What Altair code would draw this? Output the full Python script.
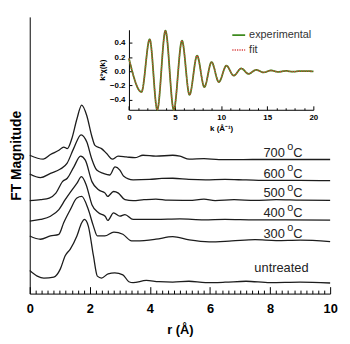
import altair as alt
import pandas as pd

# ---------------- main panel: FT magnitude vs r (arbitrary units, stacked) ----------------
series_names = ["700", "600", "500", "400", "300", "untreated"]

r_700 = [0, 0.45, 0.69, 0.97, 1.13, 1.25, 1.40, 1.57, 1.73, 1.90, 2.06, 2.17, 2.39, 2.56, 2.75, 2.94, 3.21, 3.5, 3.77, 4.2, 4.76, 5.0, 5.31, 5.8, 6.3, 6.73, 7.5, 8.5, 10]
v_700 = [140, 136, 140.7, 145, 148.3, 146.7, 156.7, 176.7, 190.7, 180, 160, 150, 146.7, 141.7, 136, 139, 138.3, 137.5, 140, 139, 140, 139, 136, 136.5, 135.5, 135.5, 135.7, 135.7, 135.7]

r_600 = [0, 0.36, 0.69, 1.02, 1.24, 1.46, 1.71, 1.90, 2.06, 2.23, 2.45, 2.66, 2.84, 3.0, 3.12, 3.44, 3.99, 4.4, 4.76, 5.3, 5.85, 6.5, 7.2, 8, 9, 10]
v_600 = [121, 117.3, 121.7, 126, 131.7, 146.7, 160.7, 153.3, 136.7, 125, 121.7, 120, 128.3, 125, 119, 115, 115.5, 116.5, 116.7, 115.5, 115, 115.5, 115, 114.5, 114.5, 114.3]

r_500 = [0, 0.37, 0.65, 0.87, 1.09, 1.25, 1.47, 1.69, 1.85, 2.07, 2.29, 2.51, 2.59, 2.79, 2.95, 3.17, 3.44, 3.8, 4.2, 4.6, 5.31, 5.8, 6.17, 6.8, 7.5, 8.2, 9, 10]
v_500 = [94, 95, 96.7, 101.7, 113.3, 116.7, 128.3, 139, 135, 113.3, 105, 101.7, 98.3, 103.3, 101.7, 95, 94, 95, 95.7, 94.5, 94.3, 95.5, 94, 95, 94.3, 95, 94.5, 94.3]

r_400 = [0, 0.36, 0.69, 0.97, 1.18, 1.36, 1.58, 1.72, 1.88, 2.07, 2.29, 2.51, 2.60, 2.79, 3.0, 3.17, 3.44, 4.2, 5.0, 5.8, 6.5, 7.5, 8.5, 10]
v_400 = [73.3, 75, 78.3, 85, 95, 103, 112, 118.3, 110, 90, 81.7, 78.3, 74, 81.7, 78.3, 80, 75, 75, 75.5, 74.5, 75, 74.5, 74.5, 74.3]

r_300 = [0, 0.36, 0.69, 0.97, 1.13, 1.35, 1.57, 1.73, 1.95, 2.12, 2.25, 2.5, 2.8, 3.1, 3.39, 3.55, 4.2, 4.76, 5.31, 5.97, 6.73, 7.5, 8.2, 9, 10]
v_300 = [58.3, 55, 58.3, 60, 71.7, 85, 96.7, 98.3, 85, 68.3, 58.3, 58.3, 62.3, 60, 53.3, 53.3, 55, 57.7, 54.3, 52.3, 53.3, 54.5, 53.5, 54, 52.5]

r_untreated = [0, 0.25, 0.47, 0.8, 1.02, 1.18, 1.35, 1.57, 1.73, 1.82, 1.95, 2.12, 2.25, 2.39, 2.61, 2.83, 3.1, 3.3, 3.44, 3.88, 4.3, 4.76, 5.3, 5.85, 6.5, 7.2, 8, 9, 10]
v_untreated = [23.3, 17.7, 15.7, 16.7, 25, 38.3, 45, 58.3, 71.7, 75, 68.3, 38.3, 17.7, 15.7, 20, 21, 19, 12, 11, 13.3, 12, 11.7, 12.5, 11, 11.5, 12.5, 11, 11.5, 10.7]

# ---------------- inset: k^3 chi(k) vs k ----------------
k_vals = [0, 1.36, 2.25, 3.07, 3.96, 4.86, 5.75, 6.57, 7.39, 8.18, 8.96, 9.75, 10.57, 11.36, 12.18, 12.96, 13.8, 14.6, 15.4, 16.2, 17.0, 17.8, 18.6, 20]
chi_exp = [0.18, -0.29, 0.45, -0.62, 0.57, -0.62, 0.43, -0.33, 0.22, -0.22, 0.13, -0.15, 0.08, -0.06, 0.04, -0.035, 0.02, -0.015, 0.012, -0.008, 0.006, -0.005, 0.004, 0.0]
chi_fit = [0.18, -0.29, 0.45, -0.62, 0.57, -0.62, 0.43, -0.33, 0.22, -0.22, 0.13, -0.15, 0.08, -0.06, 0.04, -0.035, 0.02, -0.015, 0.012, -0.008, 0.006, -0.005, 0.004, 0.0]
inset_series = ["experimental", "fit"]

# ---------------- curve labels ----------------
temp_labels = ["700", "600", "500", "400", "300"]
temp_label_levels = [138.3, 117.3, 97.3, 77.3, 56.7]
temp_label_r = [8.49, 8.49, 8.49, 8.49, 8.49]
untreated_label = ["untreated"]
untreated_level = [21.7]
untreated_r = [8.38]

FONT = "Liberation Sans"
W, H = 304, 280

rows = []
for name, rs, vs in zip(series_names,
                        [r_700, r_600, r_500, r_400, r_300, r_untreated],
                        [v_700, v_600, v_500, v_400, v_300, v_untreated]):
    for r, v in zip(rs, vs):
        rows.append({"series": name, "r": r, "v": v})
df_main = pd.DataFrame(rows)

irows = []
for name, vals in zip(inset_series, [chi_exp, chi_fit]):
    for k, c in zip(k_vals, vals):
        irows.append({"series": name, "k": k, "chi": c})
df_inset = pd.DataFrame(irows)

df_lab = pd.DataFrame({"t": temp_labels, "lv": temp_label_levels, "r": temp_label_r})
df_un = pd.DataFrame({"t": untreated_label, "lv": untreated_level, "r": untreated_r})

x_main = alt.Scale(domain=[0, 10], nice=False, zero=False)
y_main = alt.Scale(domain=[0, 280], nice=False, zero=False)
x_in = alt.Scale(domain=[0, 20], range=[100.4, 287], nice=False, zero=False)
y_in = alt.Scale(domain=[-0.54, 0.584], range=[94, 13], nice=False, zero=False, clamp=True)

curves = alt.Chart(df_main).mark_line(interpolate="monotone", color="#1c1c1c", strokeWidth=1.3).encode(
    x=alt.X("r:Q", scale=x_main, axis=alt.Axis(
        orient="bottom", values=[0, 2, 4, 6, 8, 10], ticks=False, labelPadding=9,
        labelFontSize=13, labelFontWeight="bold", labelFlush=False, labelColor="black",
        domainColor="black", title="r (Å)", titleFontSize=13, titleFontWeight="bold",
        titlePadding=8, titleColor="black", format="d")),
    y=alt.Y("v:Q", scale=y_main, axis=alt.Axis(
        orient="left", labels=False, ticks=False, domainColor="black",
        title="FT Magnitude", titleFontSize=14, titleFontWeight="bold",
        titlePadding=6, titleColor="black")),
    detail="series:N",
)

major_ticks = alt.Chart(df_main).mark_point(opacity=0).encode(
    x=alt.X("r:Q", scale=x_main, axis=alt.Axis(
        orient="top", offset=-H, values=[0, 2, 4, 6, 8, 10], tickSize=7, tickColor="black",
        labels=False, domain=False, title=None)),
    y=alt.Y("v:Q", scale=y_main, axis=None),
)
minor_ticks = alt.Chart(df_main).mark_point(opacity=0).encode(
    x=alt.X("r:Q", scale=x_main, axis=alt.Axis(
        orient="top", offset=-H, values=[round(i * 0.2, 1) for i in range(51) if i % 10 != 0],
        tickSize=3.5, tickColor="black", labels=False, domain=False, title=None)),
    y=alt.Y("v:Q", scale=y_main, axis=None),
)

legend = alt.Legend(orient="none", legendX=204, legendY=11, title=None, symbolType="stroke",
                    symbolSize=169, symbolStrokeWidth=2, labelFontSize=11, labelFont=FONT,
                    labelColor="#333", labelOffset=3, rowPadding=2, padding=0)

inset_lines = alt.Chart(df_inset).mark_line(interpolate="monotone").encode(
    x=alt.X("k:Q", scale=x_in, axis=alt.Axis(
        orient="top", offset=-94, values=[0, 5, 10, 15, 20], tickSize=4, tickColor="black",
        labels=False, domain=False, title=None)),
    y=alt.Y("chi:Q", scale=y_in, axis=alt.Axis(
        orient="right", offset=-(W - 100.4), values=[-0.4, -0.2, 0.0, 0.2, 0.4], tickSize=3,
        tickColor="black", labels=False, domain=False, title=None)),
    color=alt.Color("series:N", scale=alt.Scale(domain=inset_series, range=["#3d8a1e", "#d83a3a"]), legend=legend),
    strokeDash=alt.StrokeDash("series:N", scale=alt.Scale(domain=inset_series, range=[[1, 0], [1.2, 1.2]]), legend=legend),
    strokeWidth=alt.StrokeWidth("series:N", scale=alt.Scale(domain=inset_series, range=[1.8, 1.3]), legend=None),
)

inset_axes = alt.Chart(df_inset).mark_point(opacity=0).encode(
    x=alt.X("k:Q", scale=x_in, axis=alt.Axis(
        orient="bottom", offset=-(H - 94), values=[0, 5, 10, 15, 20], ticks=False, labelPadding=4,
        labelFontSize=8, labelFontWeight="bold", labelFlush=False, labelColor="black",
        domainColor="black", title="k (Å⁻¹)", titleFontSize=8, titleFontWeight="bold",
        titlePadding=3, titleColor="black", format="d")),
    y=alt.Y("chi:Q", scale=y_in, axis=alt.Axis(
        orient="left", offset=-100.4, values=[-0.4, -0.2, 0.0, 0.2, 0.4], ticks=False, labelPadding=4,
        labelFontSize=8, labelFontWeight="bold", labelColor="black", format=".1f",
        domainColor="black", title="k³χ(k)", titleFontSize=8, titleFontWeight="bold",
        titlePadding=3, titleColor="black")),
)

inset_minor = alt.Chart(df_inset).mark_point(opacity=0).encode(
    x=alt.X("k:Q", scale=x_in, axis=alt.Axis(
        orient="top", offset=-94, values=[i for i in range(21) if i % 5 != 0], tickSize=2,
        tickColor="black", labels=False, domain=False, title=None)),
    y=alt.Y("chi:Q", scale=y_in, axis=None),
)

lab_num = alt.Chart(df_lab).mark_text(align="right", baseline="alphabetic", fontSize=13, font=FONT, color="#222").encode(
    x=alt.X("r:Q", scale=x_main, axis=None), y=alt.Y("lv:Q", scale=y_main, axis=None), text="t:N")
lab_o = alt.Chart(df_lab).mark_text(align="center", baseline="alphabetic", fontSize=11, font=FONT, color="#222",
                                    dx=5.5, dy=-6.5, text="o").encode(
    x=alt.X("r:Q", scale=x_main, axis=None), y=alt.Y("lv:Q", scale=y_main, axis=None))
lab_c = alt.Chart(df_lab).mark_text(align="left", baseline="alphabetic", fontSize=13, font=FONT, color="#222",
                                    dx=8.5, text="C").encode(
    x=alt.X("r:Q", scale=x_main, axis=None), y=alt.Y("lv:Q", scale=y_main, axis=None))
lab_un = alt.Chart(df_un).mark_text(align="center", baseline="alphabetic", fontSize=13, font=FONT, color="#222").encode(
    x=alt.X("r:Q", scale=x_main, axis=None), y=alt.Y("lv:Q", scale=y_main, axis=None), text="t:N")

chart = alt.layer(
    curves, major_ticks, minor_ticks, inset_lines, inset_axes, inset_minor, lab_num, lab_o, lab_c, lab_un
).resolve_scale(
    x="independent", y="independent", color="independent", strokeDash="independent", strokeWidth="independent"
).resolve_axis(
    x="independent", y="independent"
).properties(
    width=W, height=H, autosize=alt.AutoSizeParams(type="none"),
    padding={"left": 22, "top": 7, "right": 12, "bottom": 48},
).configure_view(stroke=None).configure_axis(labelFont=FONT, titleFont=FONT, grid=False)

chart.save("out.html", embed_options={"renderer": "svg", "actions": False})
